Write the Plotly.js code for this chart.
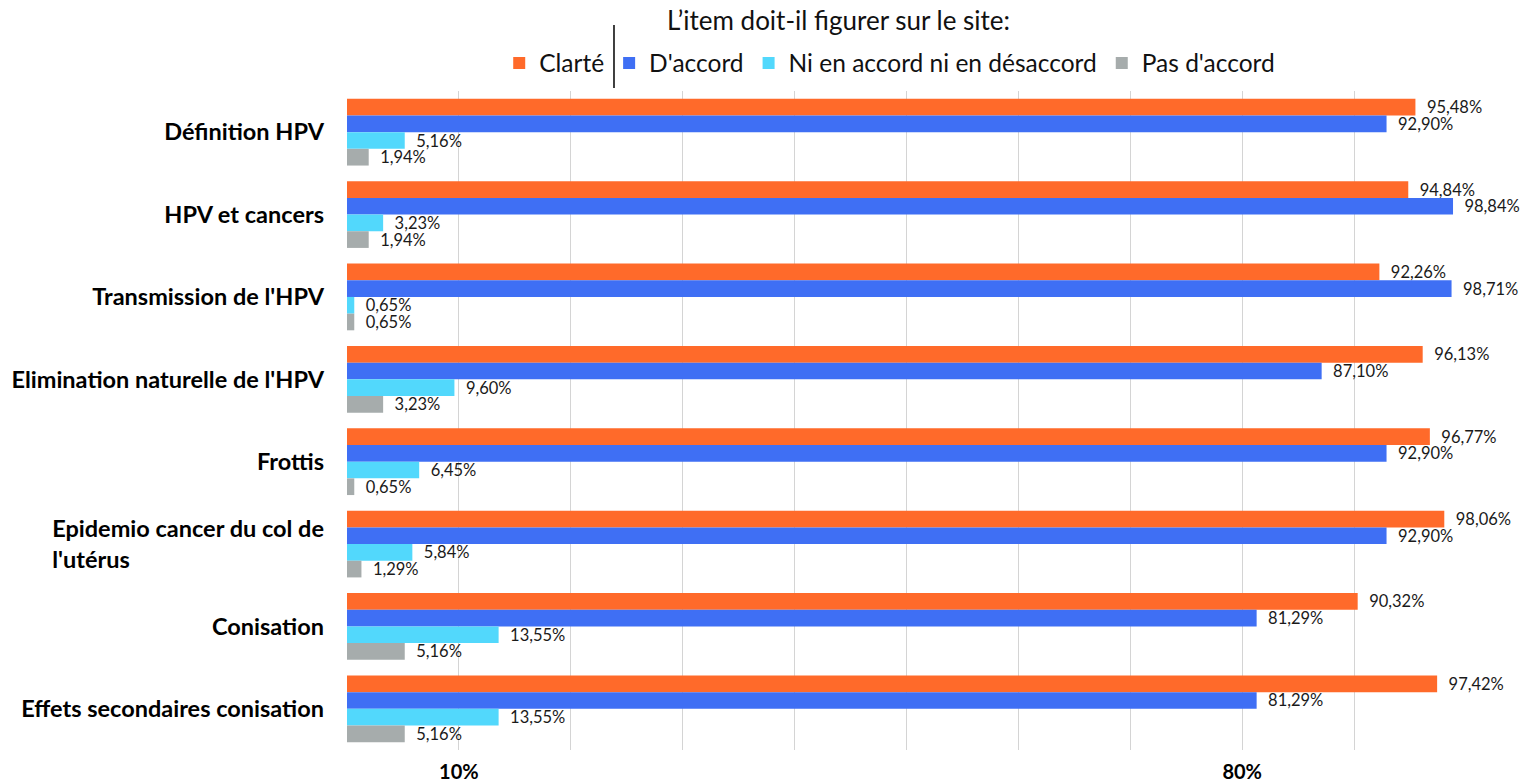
<!DOCTYPE html>
<html>
<head>
<meta charset="utf-8">
<script src="https://cdn.plot.ly/plotly-3.0.1.min.js"></script>
<style>html,body{margin:0;padding:0;background:#fff;}#chart{width:1520px;height:782px;}</style>
</head>
<body>
<div id="chart"></div>
<script>
var NB = '\u00A0';
var categories = [
  "Définition HPV",
  "HPV et cancers",
  "Transmission de l'HPV",
  "Elimination naturelle de l'HPV",
  "Frottis",
  "Epidemio cancer du col de<br>l'utérus" + NB.repeat(34),
  "Conisation",
  "Effets secondaires conisation"
];
var seriesNames = ["Clarté", "D'accord", "Ni en accord ni en désaccord", "Pas d'accord"];
var clarte   = [95.48, 94.84, 92.26, 96.13, 96.77, 98.06, 90.32, 97.42];
var daccord  = [92.90, 98.84, 98.71, 87.10, 92.90, 92.90, 81.29, 81.29];
var niNi     = [5.16, 3.23, 0.65, 9.60, 6.45, 5.84, 13.55, 13.55];
var pasAcc   = [1.94, 1.94, 0.65, 3.23, 0.65, 1.29, 5.16, 5.16];
var colors = ["#FF6A2A", "#3F6FF4", "#52D8FC", "#A6ACAC"];
var tickVals = [10, 80];
var tickText = ["10%", "80%"];
var legendTitle = "L’item doit-il figurer sur le site:";

function fmt(v){ return NB + NB + v.toFixed(2).replace('.', ',') + '%'; }

var allSeries = [clarte, daccord, niNi, pasAcc];
var traces = allSeries.map(function(vals, i){
  return {
    type: 'bar',
    orientation: 'h',
    name: seriesNames[i],
    x: vals,
    y: categories,
    text: vals.map(fmt),
    textposition: 'outside',
    constraintext: 'none',
    cliponaxis: false,
    textfont: {family: 'Lato, sans-serif', size: 16.5, color: '#1a1a1a'},
    marker: {color: colors[i], line: {width: 0}},
    hoverinfo: 'x+y'
  };
});

var layout = {
  width: 1520, height: 782,
  margin: {l: 347, r: 54, t: 91, b: 32, pad: 0, autoexpand: false},
  paper_bgcolor: '#fff', plot_bgcolor: '#fff',
  font: {family: 'Lato, sans-serif', color: '#000'},
  barmode: 'group',
  bargap: 0.19,
  bargroupgap: 0,
  showlegend: true,
  legend: {
    orientation: 'h',
    x: 0.485, xanchor: 'center',
    y: 1.0425, yanchor: 'middle',
    bgcolor: 'rgba(0,0,0,0)',
    font: {size: 24.5, color: '#111'},
    traceorder: 'normal'
  },
  annotations: [{
    text: legendTitle, xref: 'paper', yref: 'paper',
    x: 0.4388, y: 1.1077, xanchor: 'center', yanchor: 'middle',
    showarrow: false, font: {size: 26, color: '#111'}
  }],
  xaxis: {
    range: [0, 100],
    tickmode: 'array', tickvals: tickVals, ticktext: tickText,
    showgrid: true, gridcolor: '#d4d4d4', gridwidth: 1,
    minor: {tick0: 0, dtick: 10, showgrid: true, gridcolor: '#d4d4d4', gridwidth: 1},
    zeroline: false, showline: false,
    ticks: '',
    ticklabelstandoff: 8,
    tickfont: {family: 'Lato, sans-serif', size: 20, color: '#000', weight: 'bold'}
  },
  yaxis: {
    autorange: 'reversed',
    showgrid: false, zeroline: false, showline: false,
    ticks: '',
    ticklabelstandoff: 22,
    tickfont: {family: 'Lato, sans-serif', size: 23.5, color: '#000', weight: 'bold'}
  },
  shapes: [{
    type: 'line', xref: 'paper', yref: 'paper',
    x0: 0.2386, x1: 0.2386, y0: 1.0046, y1: 1.100,
    line: {color: '#000', width: 1.5}
  }]
};

Plotly.newPlot('chart', traces, layout, {staticPlot: true, displayModeBar: false});
</script>
</body>
</html>
